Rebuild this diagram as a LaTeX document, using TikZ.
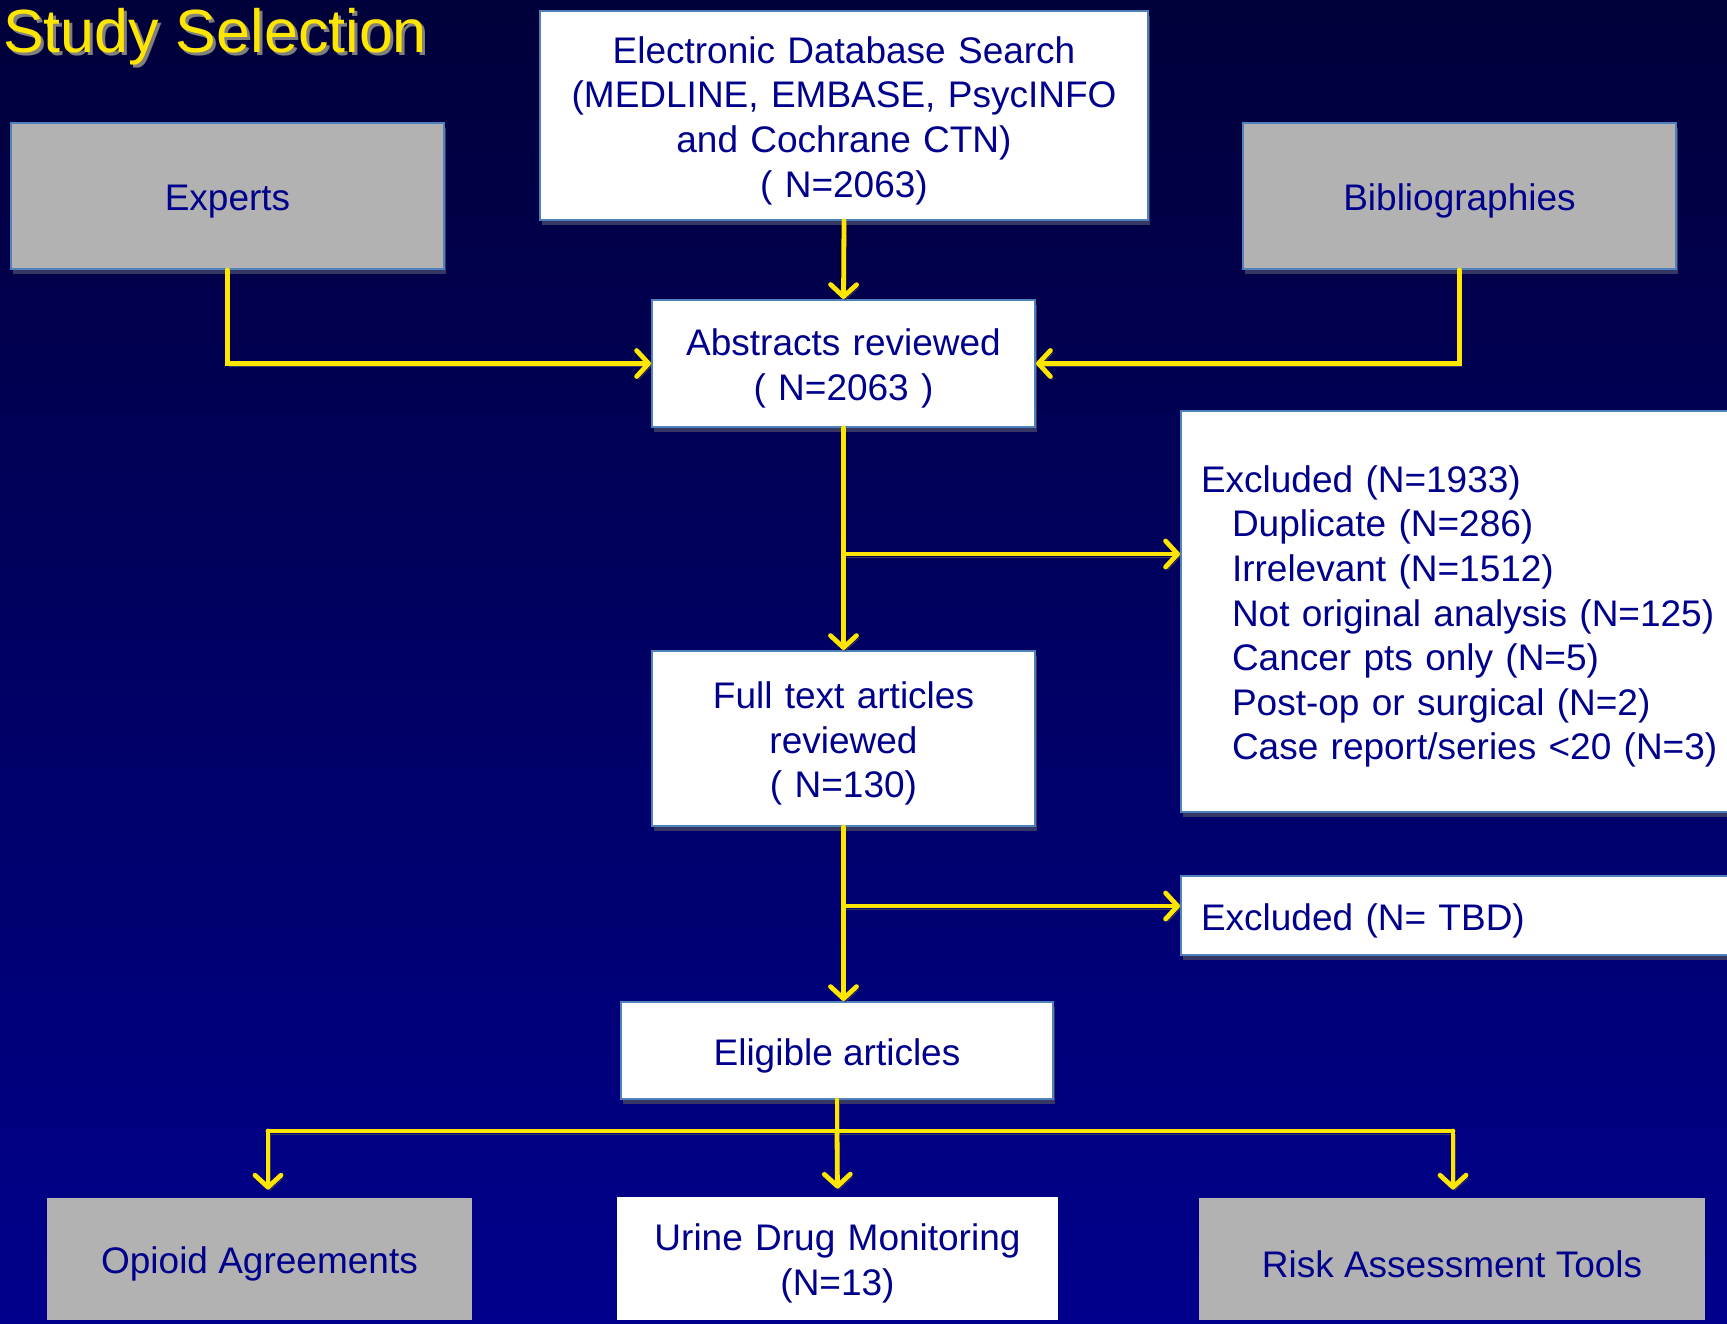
\documentclass[tikz,border=0pt]{standalone}
\usepackage{fontspec}
\setmainfont{Liberation Sans}
\usetikzlibrary{arrows.meta,shadows}
\definecolor{bgtop}{RGB}{0,0,58}
\definecolor{bgbot}{RGB}{0,0,140}
\definecolor{txtblue}{RGB}{0,0,140}
\definecolor{lineyellow}{RGB}{255,230,0}
\definecolor{edgeblue}{RGB}{79,129,189}
\definecolor{boxgray}{RGB}{178,178,178}
\definecolor{shadowgray}{RGB}{55,55,100}
\newcommand{\boxfont}{\fontsize{18.5}{22.3}\selectfont}
\tikzset{
  box/.style={draw=edgeblue, line width=1pt, fill=white, text=txtblue, align=center,
    font=\boxfont, inner sep=0pt, execute at begin node={\rule{0pt}{1em}},
    drop shadow={shadow xshift=1pt, shadow yshift=-2.5pt, fill=shadowgray, opacity=1}},
  graybox/.style={box, fill=boxgray},
  leafbox/.style={fill=white, text=txtblue, align=center, font=\boxfont, inner sep=0pt,
    execute at begin node={\rule{0pt}{1em}}},
  listbox/.style={box, anchor=west, text width=280pt, inner xsep=10pt, align=left},
  flow/.style={lineyellow, line width=2.4pt, line cap=round,
    -{Straight Barb[length=6pt,width=13pt,round]},
    preaction={draw=shadowgray, transform canvas={shift={(1pt,-1.5pt)}}}},
  bar/.style={flow, -},
}
\begin{document}
\begin{tikzpicture}[x=0.5pt,y=-0.5pt]
\shade[top color=bgtop, bottom color=bgbot] (0,0) rectangle (1727,1323);
\useasboundingbox (0,0) rectangle (1727,1323);

\node[anchor=base west, text=gray, font=\fontsize{30.5}{36}\selectfont] (titleshadow) at (-1,55) {Study Selection};
\node[anchor=base west, text=lineyellow, font=\fontsize{30.5}{36}\selectfont] (title) at (-4,52) {Study Selection};

\node[box, text width=304pt, minimum height=104.5pt] (db) at (844,115.5)
  {Electronic Database Search\\(MEDLINE, EMBASE, PsycINFO\\and Cochrane CTN)\\( N=2063)};
\node[graybox, minimum width=216.5pt, minimum height=73pt] (experts) at (227.5,196) {Experts};
\node[graybox, minimum width=216.5pt, minimum height=73pt] (biblio) at (1459.5,196) {Bibliographies};
\node[box, text width=191.5pt, minimum height=63.5pt] (abstracts) at (843.5,363.5)
  {Abstracts reviewed\\( N=2063 )};
\node[listbox, minimum height=200.5pt] (excl1) at (1180,611.5)
  {Excluded (N=1933)\\
   \hspace*{15.5pt}Duplicate (N=286)\\
   \hspace*{15.5pt}Irrelevant (N=1512)\\
   \hspace*{15.5pt}Not original analysis (N=125)\\
   \hspace*{15.5pt}Cancer pts only (N=5)\\
   \hspace*{15.5pt}Post-op or surgical (N=2)\\
   \hspace*{15.5pt}Case report/series <20 (N=3)};
\node[box, text width=191.5pt, minimum height=87.5pt] (fulltext) at (843.5,738.5)
  {Full text articles\\reviewed\\( N=130)};
\node[listbox, minimum height=39.5pt] (excl2) at (1180,915.5) {Excluded (N= TBD)};
\node[box, minimum width=216pt, minimum height=48.5pt] (eligible) at (837,1050.5) {Eligible articles};
\node[leafbox, fill=boxgray, minimum width=212.5pt, minimum height=61pt] (opioid) at (259.5,1259) {Opioid Agreements};
\node[leafbox, text width=220.5pt, minimum height=61.5pt] (urine) at (837.5,1258.5) {Urine Drug Monitoring\\(N=13)};
\node[leafbox, fill=boxgray, minimum width=253pt, minimum height=61pt] (risk) at (1452,1259) {Risk Assessment Tools};

\coordinate (split1) at (843.5,554);
\coordinate (split2) at (843.5,906);
\coordinate (barmid) at (837,1131);
\coordinate (barleft) at (268,1131);
\coordinate (barright) at (1453,1131);

\draw[flow] (db.south) -- (abstracts.north);
\draw[flow] (experts.south) |- (abstracts.west);
\draw[flow] (biblio.south) |- (abstracts.east);
\draw[flow] (abstracts.south) -- (fulltext.north);
\draw[flow] (split1) -- (split1 -| excl1.west);
\draw[flow] (fulltext.south) -- (fulltext.south |- eligible.north);
\draw[flow] (split2) -- (split2 -| excl2.west);
\draw[bar] (eligible.south) -- (barmid);
\draw[bar] (barleft) -- (barright);
\draw[flow, shorten >=4pt] (barleft) -- (barleft |- opioid.north);
\draw[flow, shorten >=4pt] (barmid) -- (urine.north);
\draw[flow, shorten >=4pt] (barright) -- (barright |- risk.north);
\end{tikzpicture}
\end{document}
